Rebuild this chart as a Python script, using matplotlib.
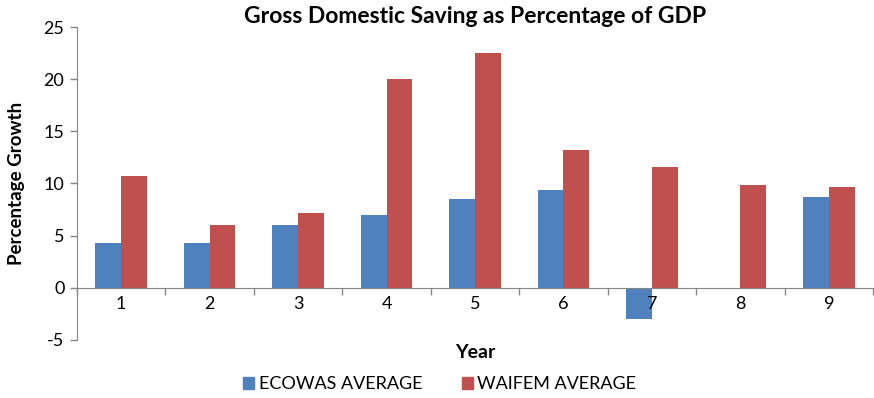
import numpy as np
import matplotlib.pyplot as plt
from matplotlib.patches import Patch

years = ['1', '2', '3', '4', '5', '6', '7', '8', '9']
ecowas = [4.3, 4.3, 6.0, 7.0, 8.5, 9.4, -3.0, 0.0, 8.7]
waifem = [10.7, 6.0, 7.2, 20.0, 22.5, 13.2, 11.6, 9.9, 9.7]

blue = '#4F81BD'
red = '#C0504D'
grey = '#868686'
plt.rcParams['font.family'] = ['Lato', 'DejaVu Sans']
plt.rcParams['axes.unicode_minus'] = False

fig = plt.figure(figsize=(8.74, 3.98), dpi=100)
ax = fig.add_axes([0.088, 0.146, 0.911, 0.786])

x = np.arange(len(years))
w = 0.29
ax.bar(x - w / 2, ecowas, w, color=blue)
ax.bar(x + w / 2, waifem, w, color=red)

ax.set_xlim(-0.5, len(years) - 0.5)
ax.set_ylim(-5, 25)
ax.set_yticks(range(-5, 26, 5))
ax.tick_params(axis='y', labelsize=13, color=grey, length=5, width=1, pad=4)

for s in ['top', 'right']:
    ax.spines[s].set_visible(False)
ax.spines['bottom'].set_position(('data', 0))
ax.spines['bottom'].set_color(grey)
ax.spines['left'].set_color(grey)

# category ticks sit between groups, labels centred under each group
ax.set_xticks(np.arange(len(years) + 1) - 0.5)
ax.set_xticklabels([])
ax.tick_params(axis='x', color=grey, length=5, width=1)
for i, lab in enumerate(years):
    ax.text(i, -1.6, lab, ha='center', va='center', fontsize=13)

ax.set_title('Gross Domestic Saving as Percentage of GDP', fontsize=16.5,
             fontweight='bold', pad=1)
ax.set_ylabel('Percentage Growth', fontsize=13.5, fontweight='bold', labelpad=13)
fig.text(0.544, 0.115, 'Year', ha='center', va='center', fontsize=14,
         fontweight='bold')

handles = [Patch(color=blue), Patch(color=red)]
fig.legend(handles, ['ECOWAS AVERAGE', 'WAIFEM AVERAGE'], loc='center',
           bbox_to_anchor=(0.503, 0.034), ncol=2, frameon=False, fontsize=13,
           handlelength=0.6, handleheight=0.6, handletextpad=0.25,
           columnspacing=2.2)

fig.savefig('out.png', dpi=100)
